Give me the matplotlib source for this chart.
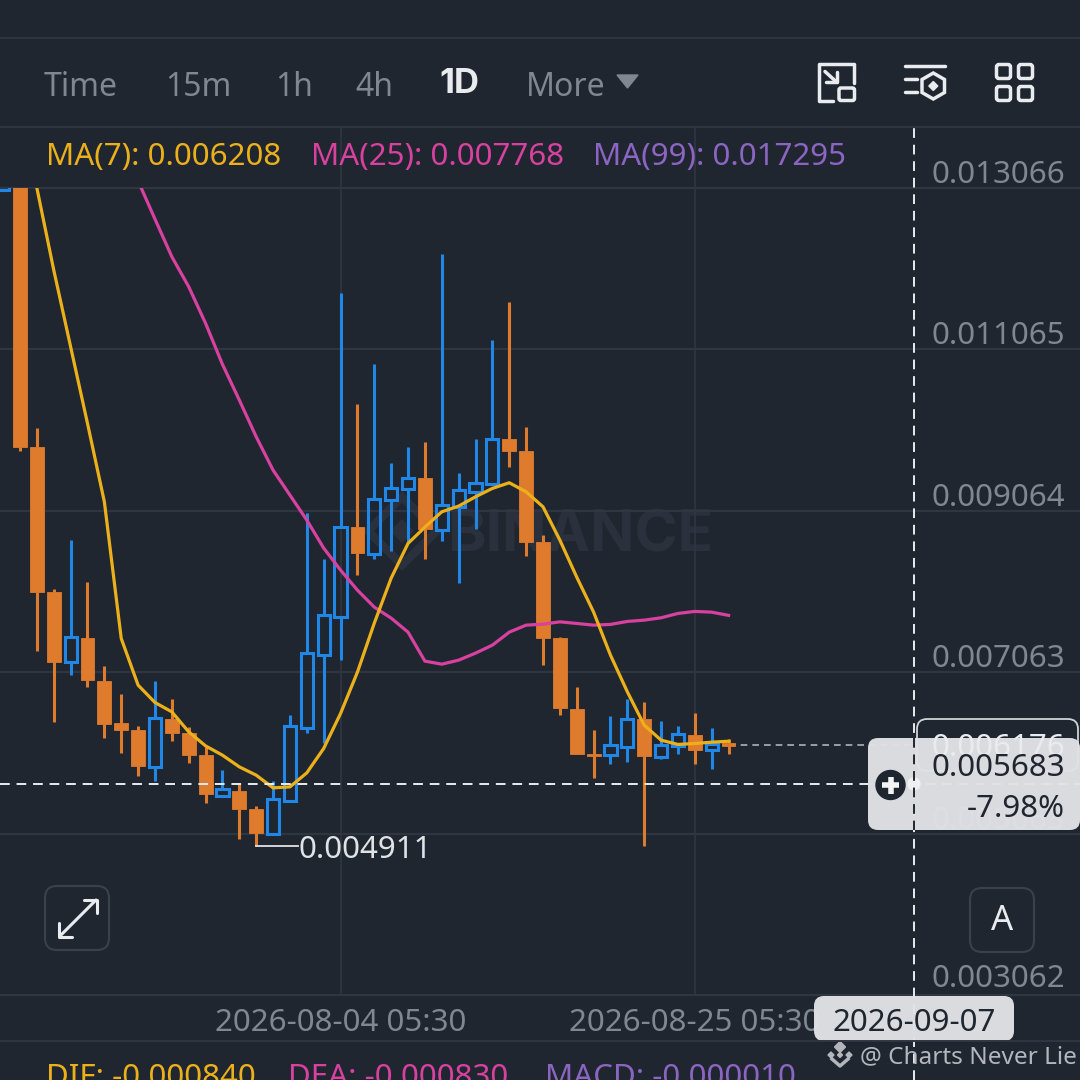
import numpy as np
import matplotlib
matplotlib.use('Agg')
import matplotlib.pyplot as plt
from matplotlib.patches import Rectangle, FancyBboxPatch, Polygon, Circle

# candle values
opens = [0.013045, 0.014500, 0.009858, 0.008060, 0.007184, 0.007490, 0.006956, 0.006428, 0.006341, 0.005890, 0.006478,
         0.006312, 0.006031, 0.005535, 0.005597, 0.005362, 0.005064, 0.005465, 0.006378, 0.007275, 0.007746, 0.008858,
         0.008527, 0.009193, 0.009330, 0.009466, 0.008825, 0.009114, 0.009300, 0.009392, 0.009950, 0.009808, 0.008680,
         0.007482, 0.006609, 0.006047, 0.006031, 0.006134, 0.006478, 0.006010, 0.006143, 0.006283, 0.006093, 0.006180]
highs = [0.015500, 0.015000, 0.010094, 0.008093, 0.008701, 0.008176, 0.007139, 0.006791, 0.006398, 0.006953, 0.006733,
         0.006386, 0.006138, 0.005849, 0.005692, 0.005403, 0.005709, 0.006527, 0.009040, 0.008462, 0.011768, 0.010387,
         0.010883, 0.009652, 0.009858, 0.009916, 0.012251, 0.009536, 0.009950, 0.011181, 0.011656, 0.010106, 0.008759,
         0.007494, 0.006874, 0.006349, 0.006519, 0.006726, 0.006688, 0.006453, 0.006395, 0.006560, 0.006370, 0.006233]
lows = [0.013041, 0.009808, 0.007325, 0.006448, 0.007027, 0.006874, 0.006254, 0.006056, 0.005775, 0.005716, 0.006209,
        0.005932, 0.005436, 0.005535, 0.004997, 0.004911, 0.005064, 0.005465, 0.006316, 0.006180, 0.007213, 0.008263,
        0.008462, 0.008568, 0.008660, 0.008469, 0.008692, 0.008164, 0.008834, 0.009392, 0.009610, 0.008503, 0.007155,
        0.006531, 0.006047, 0.005758, 0.005927, 0.005952, 0.004910, 0.005982, 0.006051, 0.005923, 0.005865, 0.006051]
closes = [0.015400, 0.009858, 0.008060, 0.007192, 0.007502, 0.006965, 0.006423, 0.006349, 0.005902, 0.006490, 0.006316,
          0.006031, 0.005548, 0.005610, 0.005369, 0.005076, 0.005486, 0.006398, 0.007296, 0.007767, 0.008866, 0.008544,
          0.009213, 0.009350, 0.009474, 0.008837, 0.009131, 0.009317, 0.009408, 0.009957, 0.009808, 0.008680, 0.007482,
          0.006614, 0.006047, 0.006019, 0.006159, 0.006485, 0.006026, 0.006163, 0.006292, 0.006101, 0.006171, 0.006147]

ma7 = [np.nan, 0.014157, 0.013066, 0.012049, 0.011098, 0.010148, 0.009176, 0.007482, 0.006903, 0.006688, 0.006572,
       0.006324, 0.006150, 0.006035, 0.005890, 0.005787, 0.005630, 0.005642, 0.005816, 0.006118, 0.006552, 0.007064,
       0.007672, 0.008230, 0.008660, 0.008862, 0.009052, 0.009123, 0.009238, 0.009342, 0.009412, 0.009300, 0.009114,
       0.008701, 0.008242, 0.007808, 0.007275, 0.006820, 0.006407, 0.006221, 0.006168, 0.006180, 0.006196, 0.006208]
ma25 = [np.nan, np.nan, np.nan, np.nan, np.nan, np.nan, np.nan, np.nan, 0.013153, 0.012681, 0.012214,
        0.011842, 0.011388, 0.010880, 0.010437, 0.009982, 0.009569, 0.009259, 0.008949, 0.008602, 0.008329, 0.008081,
        0.007870, 0.007734, 0.007560, 0.007201, 0.007163, 0.007213, 0.007300, 0.007399, 0.007560, 0.007647, 0.007659,
        0.007688, 0.007668, 0.007647, 0.007656, 0.007693, 0.007709, 0.007738, 0.007792, 0.007817, 0.007808, 0.007768]

price_ticks = [0.013066, 0.011065, 0.009064, 0.007063, 0.005062, 0.003062]
price_labels = ['0.013066', '0.011065', '0.009064', '0.007063', '0.005063', '0.003062']
date_ticks = [20, 41]
date_labels = ['2026-08-04 05:30', '2026-08-25 05:30']
tabs = ['Time', '15m', '1h', '4h', '1D', 'More']

last_price = 0.006165
cross_price = 0.005683
cross_day = 54
low_price = 0.004911
low_day = 15

BG = '#1f2630'
GRID = '#2f3641'
ORANGE = '#df7b2d'
BLUE = '#2187e7'
YELLOW = '#ecb11a'
PINK = '#d8419f'
PURPLE = '#8c65c2'
GREY = '#7f8791'
WHITE = '#e9ebee'
LIGHT = '#e0e2e6'
DARK = '#1f2630'
FS = 22.5

plt.rcParams['font.family'] = ['Noto Sans', 'DejaVu Sans']

W = 1080
fig = plt.figure(figsize=(10.8, 10.8), dpi=100, facecolor=BG)

# pixel layer behind and in front of the chart
bg = fig.add_axes([0, 0, 1, 1], zorder=0)
ui = fig.add_axes([0, 0, 1, 1], zorder=5)
for a in (bg, ui):
    a.set_xlim(0, W)
    a.set_ylim(W, 0)
    a.axis('off')
    a.patch.set_alpha(0)

# price chart, top edge cuts the candles at the first grid line
ax = fig.add_axes([0, (W - 995) / W, 1, (995 - 188) / W], zorder=2)
ax.patch.set_alpha(0)
ax.set_xlim(-0.186, 63.83)
ax.set_ylim(price_ticks[-1], price_ticks[0])
ax.axis('off')

top_ext = (995 - 128) / (995 - 188)

for p in price_ticks:
    ax.axhline(p, color=GRID, lw=1.6, zorder=1, clip_on=False)
for d in date_ticks:
    ax.axvline(d, ymin=0, ymax=top_ext, color=GRID, lw=1.2, zorder=1, clip_on=False)

# faint watermark
bg.text(580, 536, 'BINANCE', fontsize=42, family='Inter', fontweight='bold', color='#2a313c', ha='center', va='center')
bg.add_patch(Polygon([(402, 497), (437, 531), (402, 565), (368, 531)], closed=True, fill=False, ec='#2a313c', lw=6))
bg.add_patch(Polygon([(402, 520), (413, 531), (402, 542), (391, 531)], closed=True, color='#2a313c'))

# candles
for i in range(len(opens)):
    o, h, l, c = opens[i], highs[i], lows[i], closes[i]
    top, bot = max(o, c), min(o, c)
    if c >= o:
        col = BLUE
        ax.add_patch(Rectangle((i - 0.36, bot), 0.72, top - bot, fill=False, ec=col, lw=2.2, zorder=3))
    else:
        col = ORANGE
        ax.add_patch(Rectangle((i - 0.41, bot), 0.82, top - bot, fc=col, ec=col, lw=0.6, zorder=3))
    ax.vlines(i, top, h, color=col, lw=2.2, zorder=3)
    ax.vlines(i, l, bot, color=col, lw=2.2, zorder=3)

days = np.arange(len(opens))
ax.plot(days, ma25, color=PINK, lw=2.3, zorder=4)
ax.plot(days, ma7, color=YELLOW, lw=2.3, zorder=4)

# last price and crosshair
ax.plot([len(opens) - 1, 54.2], [last_price, last_price], color='#aeb2b8', lw=1.2, dashes=(4, 3), zorder=2)
ax.axhline(cross_price, color=WHITE, lw=1.4, dashes=(5, 3.5), zorder=5)
ax.axvline(cross_day, ymin=-85 / 807, ymax=top_ext, color=WHITE, lw=1.4, dashes=(5, 3.5), zorder=5, clip_on=False)

# low marker, text centre sits a little under the line
ax.plot([low_day, 17.5], [low_price, low_price], color=LIGHT, lw=1.3, zorder=4)
ui.text(299, 850, '0.004911', fontsize=FS, color=LIGHT, va='center', ha='left')

# price axis labels sit just over their grid lines, the lowest one a bit higher
for p, lab in zip(price_ticks, price_labels):
    y = ax.transData.transform((0, p))[1]
    off = 16 if p == price_ticks[-1] else 13
    bg.text(1065, W - y - off, lab, fontsize=FS, color=GREY, ha='right', va='center')

for d, lab in zip(date_ticks, date_labels):
    x = ax.transData.transform((d, 0))[0]
    bg.text(x, 1023, lab, fontsize=FS, color=GREY, ha='center', va='center')

# top tabs
tab_x = [44, 165, 275, 355, 439, 526]
for t, x in zip(tabs, tab_x):
    if t == '1D':
        ui.text(x, 84, t, fontsize=25, family='Inter', color=WHITE, fontweight='bold', ha='left', va='center')
    else:
        ui.text(x, 87, t, fontsize=23, color=GREY, ha='left', va='center')
ui.add_patch(Polygon([(617, 75), (638, 75), (627.5, 88)], closed=True, color=GREY))

for yy in (38, 127):
    ui.plot([0, W], [yy, yy], color=GRID, lw=1.4)
ui.plot([0, W], [1040.5, 1040.5], color=GRID, lw=1.4)

# MA legend
ui.text(46, 157, 'MA(7): 0.006208', fontsize=FS, color=YELLOW, va='center')
ui.text(311, 157, 'MA(25): 0.007768', fontsize=FS, color=PINK, va='center')
ui.text(593, 157, 'MA(99): 0.017295', fontsize=FS, color=PURPLE, va='center')

# MACD legend cut by the bottom edge
ui.text(46, 1078, 'DIF: -0.000840', fontsize=FS, color=YELLOW, va='center')
ui.text(288, 1078, 'DEA: -0.000830', fontsize=FS, color=PINK, va='center')
ui.text(545, 1078, 'MACD: -0.000010', fontsize=FS, color=PURPLE, va='center')


def rbox(x0, y0, x1, y1, r, **kw):
    ui.add_patch(FancyBboxPatch((x0 + r, y0 + r), x1 - x0 - 2 * r, y1 - y0 - 2 * r,
                                boxstyle='round,pad=%s,rounding_size=%s' % (r, r), **kw))


# icons top right
ic = dict(color=WHITE, lw=2.5, solid_capstyle='round', solid_joinstyle='round')
ui.plot([833, 818.5, 818.5, 854, 854, ], [100.5, 100.5, 64, 64, 83], **ic)
rbox(839, 88, 854.5, 100.5, 2, fc='none', ec=WHITE, lw=2.5)
ui.plot([825, 836.5], [71.5, 82], **ic)
ui.plot([836.5, 836.5, 826], [72, 82, 82], **ic)
ui.plot([905, 945], [65.5, 65.5], **ic)
ui.plot([905, 916.5], [79, 79], **ic)
ui.plot([905, 916.5], [92.3, 92.3], **ic)
ui.add_patch(Polygon([(933.3, 73), (944.5, 79.5), (944.5, 92.5), (933.3, 99), (922, 92.5), (922, 79.5)],
                     closed=True, fill=False, ec=WHITE, lw=2.5))
ui.add_patch(Polygon([(933.3, 81.5), (937.8, 86), (933.3, 90.5), (928.8, 86)], closed=True, color=WHITE))
for x0, x1 in ((996.5, 1010.5), (1018.5, 1032.5)):
    for y0, y1 in ((64.5, 78.5), (86.5, 100.5)):
        rbox(x0, y0, x1, y1, 2.5, fc='none', ec=WHITE, lw=2.5)

# round buttons
rbox(45, 886, 109, 950, 12, fc=BG, ec='#3a414c', lw=1.5)
ui.plot([60, 96], [936, 900], **dict(ic, lw=2.2))
ui.plot([84, 97, 97], [900, 900, 913], **dict(ic, lw=2.2))
ui.plot([59, 59, 72], [923, 937, 937], **dict(ic, lw=2.2))
rbox(970, 888, 1034, 952, 12, fc=BG, ec='#3a414c', lw=1.5)
ui.text(1002, 921, 'A', fontsize=25, color=WHITE, ha='center', va='center')

# current price box, partly hidden by the tooltip
rbox(917, 719, 1078, 771, 10, fc=BG, ec='#d0d3d8', lw=1.3)
ui.text(1065, 748, '0.006176', fontsize=FS, color=WHITE, ha='right', va='center')

# tooltip
rbox(868, 738, 1080, 830, 10, fc=LIGHT, ec='none', alpha=0.97)
ui.plot([914, 914], [738, 830], color=DARK, lw=1.4, dashes=(5, 3.5))
ui.add_patch(Circle((914, 784), 6, color='#eff0f2'))
ui.add_patch(Circle((890.5, 785), 14.5, color=DARK))
ui.plot([882, 899], [785, 785], color='#f2f3f5', lw=4, solid_capstyle='butt')
ui.plot([890.5, 890.5], [776.5, 793.5], color='#f2f3f5', lw=4, solid_capstyle='butt')
ui.text(1065, 768, '0.005683', fontsize=FS, color=DARK, ha='right', va='center')
ui.text(1065, 809, '-7.98%', fontsize=FS, color=DARK, ha='right', va='center')

# date label
rbox(814, 996, 1014, 1041, 10, fc=LIGHT, ec='none', alpha=0.97)
ui.text(914, 1023, '2026-09-07', fontsize=FS, color=DARK, ha='center', va='center')

# corner mark
MARK = '#b3b7bd'
ui.text(860, 1057, '@ Charts Never Lie', fontsize=17.5, color=MARK, va='center')
for cx, cy, r in ((840, 1047, 5.5), (831, 1055, 3), (849, 1055, 3), (840, 1055, 2.5)):
    ui.add_patch(Polygon([(cx, cy - r), (cx + r, cy), (cx, cy + r), (cx - r, cy)], closed=True, color=MARK))
ui.plot([832, 840, 848], [1059, 1066, 1059], color=MARK, lw=2.5)

fig.savefig('out.png', dpi=100, facecolor=BG)
